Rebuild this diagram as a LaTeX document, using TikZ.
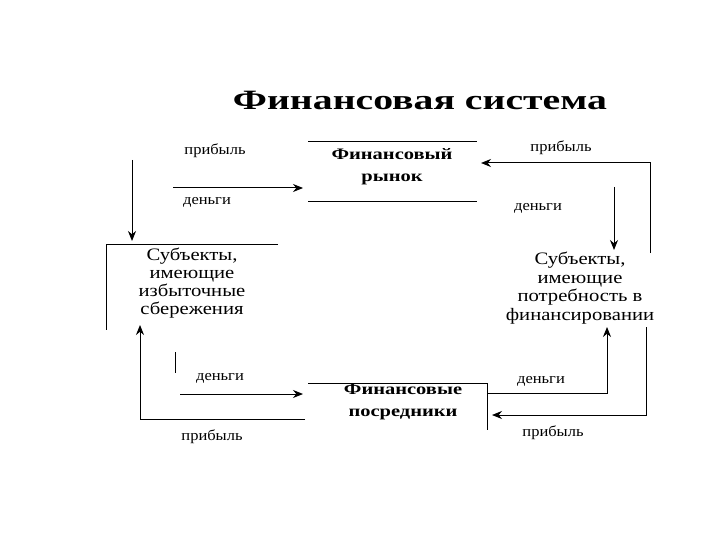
\documentclass[tikz,border=0pt]{standalone}
\usepackage{fontspec}
\setmainfont{Liberation Serif}
\newfontfamily\titlefont[FakeStretch=1.42]{Liberation Serif}
\newfontfamily\boxfont[FakeStretch=1.28]{Liberation Serif}
\newfontfamily\sidefont[FakeStretch=1.18]{Liberation Serif}
\newfontfamily\lblfont[FakeStretch=1.1]{Liberation Serif}
\usetikzlibrary{arrows.meta}
\begin{document}
\begin{tikzpicture}[x=1pt,y=-1pt,
  ln/.style={line width=1pt,black},
  arr/.style={ln,-{Stealth[length=10pt,width=8pt]}},
  lbl/.style={font=\lblfont\fontsize{15}{15}\selectfont,inner sep=0pt},
  boxt/.style={font=\boxfont\fontsize{16}{22}\selectfont\bfseries,align=center,inner sep=0pt},
  sidet/.style={font=\sidefont\fontsize{17.5}{18}\selectfont,align=center,inner sep=0pt}]
\useasboundingbox (0,0) rectangle (720,540);
\node[font=\titlefont\fontsize{28}{30}\selectfont\bfseries,inner sep=0pt] (title) at (420,100) {Финансовая система};
% Financial market
\node[boxt] (fm) at (392,167) {Финансовый\\рынок};
\coordinate (fmt1) at (308,142); \coordinate (fmt2) at (477,142);
\coordinate (fmb1) at (308,202); \coordinate (fmb2) at (477,202);
\draw[ln] (fmt1) -- (fmt2);
\draw[ln] (fmb1) -- (fmb2);
% Left subjects
\node[sidet] (ls) at (192,283) {Субъекты,\\имеющие\\избыточные\\сбережения};
\coordinate (lsa) at (278,244); \coordinate (lsb) at (106,244); \coordinate (lsc) at (106,330);
\draw[ln] (lsa) -- (lsb) -- (lsc);
% Right subjects
\node[sidet,font=\sidefont\fontsize{17.5}{18.5}\selectfont] (rs) at (580,288) {Субъекты,\\имеющие\\потребность в\\финансировании};
% Intermediaries
\node[boxt] (fi) at (403,402) {Финансовые\\посредники};
\coordinate (fia) at (308,383); \coordinate (fib) at (487,383); \coordinate (fic) at (487,430);
\draw[ln] (fia) -- (fib) -- (fic);
% top-left
\coordinate (a1) at (132,160); \coordinate (a2) at (132,241);
\draw[arr] (a1) -- (a2);
\coordinate (b1) at (173,188); \coordinate (b2) at (303,188);
\draw[arr] (b1) -- (b2);
\node[lbl] (l1) at (215,151) {прибыль};
\node[lbl] (l2) at (207,202) {деньги};
% top-right
\coordinate (c1) at (650,253); \coordinate (c2) at (650,163); \coordinate (c3) at (481,163);
\draw[arr] (c1) -- (c2) -- (c3);
\coordinate (d1) at (614,187); \coordinate (d2) at (614,250);
\draw[arr] (d1) -- (d2);
\node[lbl] (l3) at (561,148) {прибыль};
\node[lbl] (l4) at (538,208) {деньги};
% bottom-left
\coordinate (e1) at (305,419); \coordinate (e2) at (140,419); \coordinate (e3) at (140,325);
\draw[arr] (e1) -- (e2) -- (e3);
\coordinate (f1) at (175,352); \coordinate (f2) at (175,373);
\draw[ln] (f1) -- (f2);
\coordinate (g1) at (180,394); \coordinate (g2) at (303,394);
\draw[arr] (g1) -- (g2);
\node[lbl] (l5) at (220,378) {деньги};
\node[lbl] (l6) at (212,437) {прибыль};
% bottom-right
\coordinate (h1) at (488,393); \coordinate (h2) at (607,393); \coordinate (h3) at (607,327);
\draw[arr] (h1) -- (h2) -- (h3);
\coordinate (i1) at (646,327); \coordinate (i2) at (646,415); \coordinate (i3) at (492,415);
\draw[arr] (i1) -- (i2) -- (i3);
\node[lbl] (l7) at (541,381) {деньги};
\node[lbl] (l8) at (553,433) {прибыль};
\end{tikzpicture}
\end{document}
